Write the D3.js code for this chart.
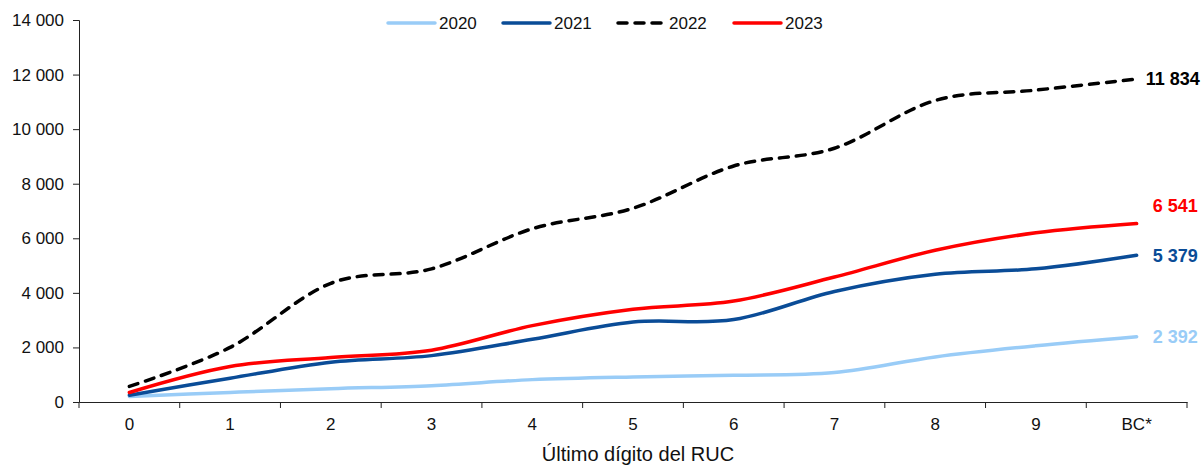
<!DOCTYPE html>
<html>
<head>
<meta charset="utf-8">
<script src="https://cdn.jsdelivr.net/npm/d3@7"></script>
<style>
  body { margin: 0; background: #fff; }
  svg text { font-family: "Liberation Sans", Arial, sans-serif; }
</style>
</head>
<body>
<div id="chart"></div>
<script>
// Datos
const categorias = ["0", "1", "2", "3", "4", "5", "6", "7", "8", "9", "BC*"];
const anios = ["2020", "2021", "2022", "2023"];
const v2020 = [200, 350, 490, 600, 820, 920, 980, 1080, 1650, 2060, 2392];
const v2021 = [250, 870, 1460, 1700, 2300, 2930, 3020, 4050, 4680, 4880, 5379];
const v2022 = [570, 2000, 4350, 4880, 6350, 7100, 8650, 9300, 11050, 11430, 11834];
const v2023 = [350, 1300, 1630, 1900, 2800, 3400, 3700, 4580, 5560, 6200, 6541];
const yTicks = [0, 2000, 4000, 6000, 8000, 10000, 12000, 14000];

const series = [
  { name: "2020", values: v2020, color: "#99CCF7", dash: null, labelDy: 0, labelDx: 16 },
  { name: "2021", values: v2021, color: "#0A4C97", dash: null, labelDy: 0, labelDx: 16 },
  { name: "2022", values: v2022, color: "#000000", dash: "9,8", labelDy: 0, labelDx: 9 },
  { name: "2023", values: v2023, color: "#FF0000", dash: null, labelDy: -18, labelDx: 16 }
];

const W = 1204, H = 468;
const margin = { top: 20, right: 17, bottom: 66, left: 79 };

const svg = d3.select("#chart").append("svg")
    .attr("width", W)
    .attr("height", H);

const fmt = d3.formatLocale({ decimal: ",", thousands: " ", grouping: [3], currency: ["", ""] }).format(",d");

// Escalas
const x = d3.scaleBand()
    .domain(categorias)
    .range([margin.left, W - margin.right]);

const y = d3.scaleLinear()
    .domain([0, 14000])
    .range([H - margin.bottom, margin.top]);

// Eje Y
const yAxis = svg.append("g")
    .attr("transform", "translate(" + margin.left + ",0)")
    .call(d3.axisLeft(y).tickValues(yTicks).tickFormat(fmt).tickSize(6).tickPadding(9));
yAxis.selectAll("text").style("font-size", "17px").attr("fill", "#111");
yAxis.select(".domain").attr("stroke", "#222");
yAxis.selectAll(".tick line").attr("stroke", "#222");

// Eje X
const xAxis = svg.append("g")
    .attr("transform", "translate(0," + y(0) + ")")
    .call(d3.axisBottom(x).tickSize(0).tickPadding(16));
xAxis.selectAll("text").style("font-size", "17px").attr("fill", "#111");
xAxis.select(".domain").attr("stroke", "#222");

// marcas entre categorías
const bordes = categorias.map(c => x(c)).concat([x.range()[1]]);
xAxis.selectAll(".borde")
    .data(bordes)
  .enter().append("line")
    .attr("class", "borde")
    .attr("x1", d => d).attr("x2", d => d)
    .attr("y1", 0).attr("y2", 6)
    .attr("stroke", "#222");

svg.append("text")
    .attr("x", (margin.left + W - margin.right) / 2 + 5)
    .attr("y", 461)
    .attr("text-anchor", "middle")
    .style("font-size", "20px")
    .attr("fill", "#111")
    .text("Último dígito del RUC");

// Líneas
const line = d3.line()
    .x((d, i) => x(categorias[i]) + x.bandwidth() / 2)
    .y(d => y(d))
    .curve(d3.curveCardinal.tension(0));

series.forEach(s => {
  svg.append("path")
      .datum(s.values)
      .attr("d", line)
      .attr("fill", "none")
      .attr("stroke", s.color)
      .attr("stroke-width", 3.5)
      .attr("stroke-linecap", "round")
      .attr("stroke-dasharray", s.dash);

  const last = s.values[s.values.length - 1];
  svg.append("text")
      .attr("x", x(categorias[categorias.length - 1]) + x.bandwidth() / 2 + s.labelDx)
      .attr("y", y(last) + s.labelDy)
      .attr("dy", "0.35em")
      .style("font-size", "18px")
      .style("font-weight", "bold")
      .attr("fill", s.color)
      .text(fmt(last));
});

// Leyenda
const legendX = [388, 503, 618, 734];
const legend = svg.append("g");
series.forEach((s, i) => {
  const g = legend.append("g").attr("transform", "translate(" + legendX[i] + ",23)");
  g.append("line")
      .attr("x1", 0).attr("x2", 47)
      .attr("stroke", s.color)
      .attr("stroke-width", 3.5)
      .attr("stroke-linecap", "round")
      .attr("stroke-dasharray", s.dash ? "9,8" : null);
  g.append("text")
      .attr("x", 51)
      .attr("dy", "0.35em")
      .style("font-size", "17px")
      .attr("fill", "#111")
      .text(s.name);
});
</script>
</body>
</html>
